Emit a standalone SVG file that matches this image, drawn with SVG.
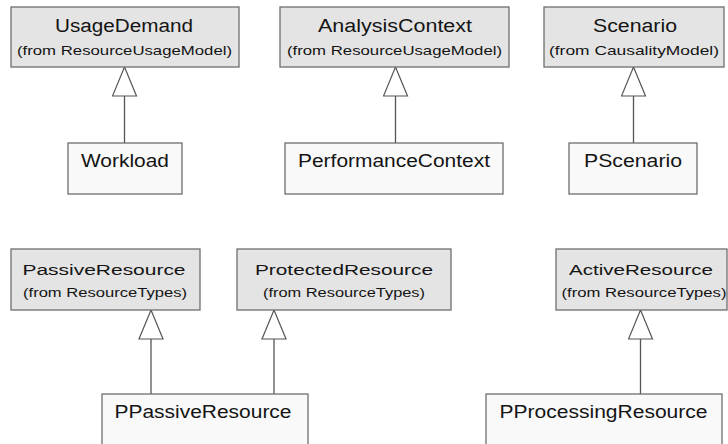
<svg xmlns="http://www.w3.org/2000/svg" width="728" height="444" viewBox="0 0 728 444">
<style>
.hdr{fill:#e4e4e4;stroke:#6e6e6e;stroke-width:1.3}
.cls{fill:#f9f9f9;stroke:#6e6e6e;stroke-width:1.3}
text{font-family:"Liberation Sans",Arial,sans-serif;fill:#141414;text-anchor:middle}
.t1{font-size:18px}
.s1{font-size:13.5px}
.t2{font-size:15.5px}
.s2{font-size:12px}
.c{font-size:17.5px}
.gen{stroke:#555;stroke-width:1.3;fill:none;marker-end:url(#tri)}
</style>
<defs>
<marker id="tri" viewBox="-1 -1 31 26" refX="29" refY="12" markerWidth="31" markerHeight="26" markerUnits="userSpaceOnUse" orient="auto">
<path d="M0,0 L29,12 L0,24 Z" fill="#fff" stroke="#555" stroke-width="1.2"/>
</marker>
</defs>
<g id="connectors">
<line class="gen" x1="124.5" y1="143" x2="124.5" y2="67"/>
<line class="gen" x1="395.5" y1="143" x2="395.5" y2="67"/>
<line class="gen" x1="633.5" y1="143" x2="633.5" y2="67"/>
<line class="gen" x1="151" y1="394" x2="151" y2="310"/>
<line class="gen" x1="274" y1="394" x2="274" y2="310"/>
<line class="gen" x1="640.5" y1="394" x2="640.5" y2="310"/>
</g>
<g id="UsageDemand">
<rect class="hdr" x="11" y="7" width="228" height="60"/>
<text class="t1" x="124" y="32" textLength="138" lengthAdjust="spacingAndGlyphs">UsageDemand</text>
<text class="s1" x="124.5" y="55" textLength="215" lengthAdjust="spacingAndGlyphs">(from ResourceUsageModel)</text>
</g>
<g id="AnalysisContext">
<rect class="hdr" x="280" y="7" width="229" height="60"/>
<text class="t1" x="395" y="32" textLength="154" lengthAdjust="spacingAndGlyphs">AnalysisContext</text>
<text class="s1" x="394.5" y="55" textLength="215" lengthAdjust="spacingAndGlyphs">(from ResourceUsageModel)</text>
</g>
<g id="Scenario">
<rect class="hdr" x="544" y="7" width="180" height="60"/>
<text class="t1" x="635" y="32" textLength="84" lengthAdjust="spacingAndGlyphs">Scenario</text>
<text class="s1" x="634" y="55" textLength="170" lengthAdjust="spacingAndGlyphs">(from CausalityModel)</text>
</g>
<g id="Workload">
<rect class="cls" x="68" y="143" width="114" height="51"/>
<text class="c" x="125" y="167" textLength="88" lengthAdjust="spacingAndGlyphs">Workload</text>
</g>
<g id="PerformanceContext">
<rect class="cls" x="285" y="143" width="218" height="51"/>
<text class="c" x="394" y="167" textLength="192" lengthAdjust="spacingAndGlyphs">PerformanceContext</text>
</g>
<g id="PScenario">
<rect class="cls" x="569" y="143" width="128" height="51"/>
<text class="c" x="633" y="167" textLength="98" lengthAdjust="spacingAndGlyphs">PScenario</text>
</g>
<g id="PassiveResource">
<rect class="hdr" x="11" y="249" width="189" height="61"/>
<text class="t2" x="104" y="275" textLength="163" lengthAdjust="spacingAndGlyphs">PassiveResource</text>
<text class="s2" x="105" y="297" textLength="164" lengthAdjust="spacingAndGlyphs">(from ResourceTypes)</text>
</g>
<g id="ProtectedResource">
<rect class="hdr" x="237" y="249" width="214" height="61"/>
<text class="t2" x="344" y="275" textLength="178" lengthAdjust="spacingAndGlyphs">ProtectedResource</text>
<text class="s2" x="344" y="297" textLength="162" lengthAdjust="spacingAndGlyphs">(from ResourceTypes)</text>
</g>
<g id="ActiveResource">
<rect class="hdr" x="556" y="249" width="171" height="61"/>
<text class="t2" x="641" y="275" textLength="144" lengthAdjust="spacingAndGlyphs">ActiveResource</text>
<text class="s2" x="644" y="297" textLength="165" lengthAdjust="spacingAndGlyphs">(from ResourceTypes)</text>
</g>
<g id="PPassiveResource">
<rect class="cls" x="102" y="394" width="206" height="51"/>
<text class="c" x="203" y="418" textLength="177" lengthAdjust="spacingAndGlyphs">PPassiveResource</text>
</g>
<g id="PProcessingResource">
<rect class="cls" x="486" y="394" width="236" height="51"/>
<text class="c" x="603.5" y="417.5" textLength="208" lengthAdjust="spacingAndGlyphs">PProcessingResource</text>
</g>
</svg>
